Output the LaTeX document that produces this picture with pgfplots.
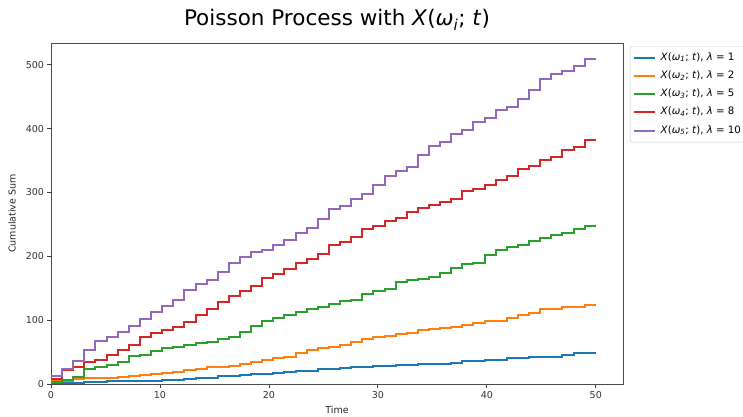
\documentclass[border=0pt]{standalone}
\usepackage{fontspec}
\setmainfont{DejaVu Sans}
\usepackage{pgfplots}
\usepackage{pgfplotstable}
\pgfplotsset{compat=1.18}

\definecolor{tabblue}{HTML}{1F77B4}
\definecolor{taborange}{HTML}{FF7F0E}
\definecolor{tabgreen}{HTML}{2CA02C}
\definecolor{tabred}{HTML}{D62728}
\definecolor{tabpurple}{HTML}{9467BD}

% mathtext-like X(omega_i; t) in DejaVu Sans oblique
\newcommand\mX[1]{\textit{X}(\textit{ω}\textsubscript{\textit{#1}}; \textit{t})}

% cumulative counts on 50 equally spaced times in [0,50]
\pgfplotstableread{
k  b   o   g   r   p
0  1   4   3   8   13
1  2   5   6   22  23
2  2   8   11  27  36
3  3   9   24  35  53
4  3   10  26  38  68
5  4   10  29  45  74
6  4   11  35  53  81
7  4   13  44  61  91
8  5   14  45  74  102
9  5   15  51  80  112
10 6   17  56  84  122
11 7   19  58  89  132
12 8   22  61  97  147
13 9   24  64  108 156
14 10  26  65  118 163
15 12  27  71  129 176
16 13  28  74  138 189
17 14  31  82  146 199
18 15  35  91  153 206
19 16  37  98  166 210
20 18  40  103 172 217
21 19  43  108 180 226
22 20  48  113 189 236
23 21  53  117 196 244
24 23  56  121 204 259
25 24  58  125 217 274
26 25  61  130 223 279
27 26  66  132 230 290
28 27  70  141 243 297
29 28  73  146 248 311
30 28  75  149 255 325
31 29  78  160 260 333
32 29  80  163 270 340
33 31  84  164 276 358
34 31  86  167 281 372
35 31  87  174 285 379
36 33  90  182 290 392
37 36  92  188 303 398
38 36  95  190 306 410
39 37  98  202 312 417
40 37  98  210 319 429
41 40  104 214 326 434
42 40  108 217 337 447
43 42  111 224 342 460
44 43  117 228 350 477
45 43  117 233 355 486
46 45  120 237 366 490
47 48  121 242 371 498
48 48  123 247 382 509
49 48  123 247 382 509
}\data

\begin{document}
\begin{tikzpicture}
\path[use as bounding box] (-51pt,-32pt) rectangle (692pt,384pt);
\begin{axis}[
  scale only axis,
  width=572pt, height=341pt,
  xmin=0, xmax=52.5,
  ymin=0, ymax=534,
  xtick={0,10,...,50},
  ytick={0,100,...,500},
  tick align=outside,
  xtick pos=left, ytick pos=left,
  major tick length=3.5pt,
  tick style={black!75, line width=0.8pt},
  axis line style={black!70, line width=0.9pt},
  ticklabel style={font=\fontsize{9.5}{11}\selectfont, text=black!80},
  /pgf/number format/assume math mode=true,
  title={Poisson Process with \mX{i}},
  title style={font=\fontsize{21.5}{26}\selectfont, at={(axis description cs:0.5,1)}, anchor=base, yshift=11pt},
  xlabel={Time},
  ylabel={Cumulative Sum},
  label style={font=\fontsize{9.5}{11}\selectfont, text=black!85},
  xlabel style={at={(axis description cs:0.5,-0.076)}, anchor=center},
  ylabel style={at={(axis description cs:-0.068,0.5)}, anchor=center},
  legend style={
    at={(axis description cs:1.0122,0.991)}, anchor=north west,
    draw=black!20, rounded corners=2pt, fill=white,
    font=\fontsize{10.2}{12}\selectfont,
    inner xsep=3pt, inner ysep=4.4pt,
    row sep=4.25pt,
    nodes={inner sep=1.5pt, text height=8pt, text depth=3pt},
    /tikz/every odd column/.append style={column sep=3pt},
  },
  legend cell align=left,
  legend image code/.code={\draw[#1, line width=2pt] (0pt,0pt) -- (21pt,0pt);},
  every axis plot/.append style={const plot, line width=2pt, mark=none},
]
\addplot[tabblue]   table[x expr=\thisrow{k}*50/49, y=b] {\data};
\addlegendentry{\mX{1}, \textit{λ} = 1}
\addplot[taborange] table[x expr=\thisrow{k}*50/49, y=o] {\data};
\addlegendentry{\mX{2}, \textit{λ} = 2}
\addplot[tabgreen]  table[x expr=\thisrow{k}*50/49, y=g] {\data};
\addlegendentry{\mX{3}, \textit{λ} = 5}
\addplot[tabred]    table[x expr=\thisrow{k}*50/49, y=r] {\data};
\addlegendentry{\mX{4}, \textit{λ} = 8}
\addplot[tabpurple] table[x expr=\thisrow{k}*50/49, y=p] {\data};
\addlegendentry{\mX{5}, \textit{λ} = 10}
\end{axis}
\end{tikzpicture}
\end{document}
